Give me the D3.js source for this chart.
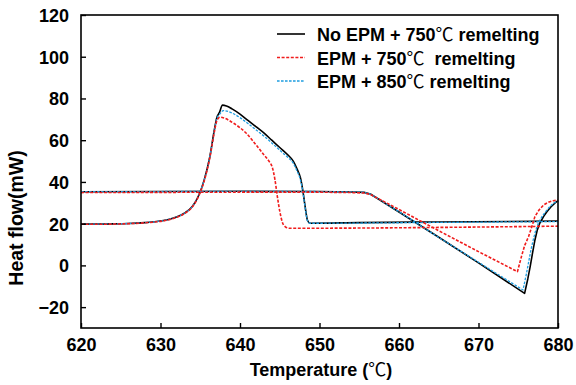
<!DOCTYPE html>
<html>
<head>
<meta charset="utf-8">
<script src="https://cdn.jsdelivr.net/npm/d3@7"></script>
<style>
  body { margin: 0; background: #fff; }
  svg text { font-family: "Liberation Sans", Arial, "Noto Sans CJK SC", sans-serif; font-weight: bold; fill: #000; }
  .cjk { font-family: "Noto Sans CJK SC", sans-serif; font-weight: normal; }
</style>
</head>
<body>
<div id="chart"></div>
<script>
// temperature (℃) / heat flow (mW)
const xTicks = [620, 630, 640, 650, 660, 670, 680];
const yTicks = [-20, 0, 20, 40, 60, 80, 100, 120];

const seriesNames = [['No EPM + 750', ' remelting'], ['EPM + 750', '\u00a0 remelting'], ['EPM + 850', ' remelting']];

// heating branch
const heatTempNoEpm = [620, 622, 624, 626, 628, 629.5, 631, 632, 633, 634, 634.8, 635.5, 636.2, 636.8, 637.1, 637.4, 637.8, 638.3, 639, 640, 641, 642, 643, 644, 645, 646, 646.7, 647.2, 647.6, 647.9, 648.2, 648.5, 648.8, 655, 665, 680];
const heatFlowNoEpm = [19.8, 19.8, 19.9, 20.1, 20.5, 21, 22, 23.2, 25, 28.2, 33.5, 41, 52, 65.5, 71, 73.2, 76.8, 76.4, 75, 72.5, 69.5, 66.5, 63.5, 60, 56.5, 53, 50, 46, 42, 36, 28, 21.5, 20.2, 20.5, 20.8, 21.2];

const heatTemp750 = [620, 622, 624, 626, 628, 629.5, 631, 632, 633, 634, 634.8, 635.5, 636.2, 636.8, 637.1, 637.5, 638, 639.2, 640, 640.8, 641.5, 642.3, 643, 643.6, 644.1, 644.4, 644.7, 645, 645.3, 645.7, 646.2, 655, 665, 680];
const heatFlow750 = [19.7, 19.7, 19.8, 20, 20.4, 20.9, 21.8, 23, 24.8, 28, 33.2, 40.5, 51.5, 64.5, 69.5, 71, 70.6, 68.1, 66, 63.3, 60.2, 56.4, 53, 50.2, 46.5, 41, 33, 26, 21, 18.5, 17.8, 17.9, 18.2, 18.8];

const heatTemp850 = [620, 622, 624, 626, 628, 629.5, 631, 632, 633, 634, 634.8, 635.5, 636.2, 636.8, 637.1, 637.5, 637.9, 639, 640, 641, 642, 643, 644, 645, 646, 646.7, 647.2, 647.6, 647.9, 648.2, 648.5, 648.8, 655, 665, 680];
const heatFlow850 = [19.8, 19.8, 19.9, 20.1, 20.5, 21, 22, 23.2, 25, 28.2, 33.5, 41, 52, 65, 70.5, 72.8, 74.2, 73, 70.8, 68, 65, 62, 58.7, 55.2, 51.8, 49, 45, 41, 35.5, 27.5, 21.3, 20.2, 20.3, 20.6, 21];

// cooling branch
const coolTempNoEpm = [620, 630, 640, 650, 654, 655.6, 656.4, 660, 665, 670, 675.8, 676.2, 676.5, 676.8, 677.1, 677.4, 677.7, 678.2, 678.6, 679.1, 679.6, 680];
const coolFlowNoEpm = [35.3, 35.4, 35.5, 35.4, 35.2, 35, 34.2, 25.6, 13.5, 1.2, -13.4, -6.5, -0.6, 6, 12.2, 17, 20.2, 23.5, 25.7, 28, 29.8, 31];

const coolTemp750 = [620, 630, 640, 650, 654, 655.6, 656.4, 660, 665, 670, 674.9, 675.4, 675.8, 676.3, 676.7, 677.1, 677.6, 678.2, 678.8, 679.4, 680];
const coolFlow750 = [34.9, 35, 35.1, 35.1, 34.9, 34.7, 34, 26.8, 16.6, 6.6, -3, 4.2, 9.5, 13.8, 18.5, 23.4, 26.5, 29, 30.3, 31, 31.3];

const coolTemp850 = [620, 630, 640, 650, 654, 655.6, 656.4, 660, 665, 670, 675.6, 676, 676.3, 676.6, 676.9, 677.2, 677.5, 678, 678.5, 679, 679.5, 680];
const coolFlow850 = [35.3, 35.4, 35.5, 35.4, 35.2, 35, 34.2, 25.7, 13.4, 1.5, -11.8, -4.5, 1.5, 7.5, 12.5, 16.8, 20, 23.5, 26, 28.3, 30, 31];

const width = 576;
const height = 385;
const margin = { top: 15, right: 18, bottom: 57, left: 81 };

const svg = d3.select('#chart').append('svg')
  .attr('width', width)
  .attr('height', height);

const x = d3.scaleLinear()
  .domain([620, 680])
  .range([margin.left, width - margin.right]);

const y = d3.scaleLinear()
  .domain([-30, 120])
  .range([height - margin.bottom, margin.top]);

const heatLine = d3.line()
  .x(d => x(d[0]))
  .y(d => y(d[1]))
  .curve(d3.curveMonotoneX);

const coolLine = d3.line()
  .x(d => x(d[0]))
  .y(d => y(d[1]))
  .curve(d3.curveLinear);

const styles = [
  { color: '#000000', width: 1.6, dash: null },
  { color: '#f01c1c', width: 1.6, dash: '3,1.6' },
  { color: '#1e9de0', width: 1.3, dash: '2.6,1.4' }
];

const branches = [
  [heatTempNoEpm, heatFlowNoEpm, coolTempNoEpm, coolFlowNoEpm],
  [heatTemp750, heatFlow750, coolTemp750, coolFlow750],
  [heatTemp850, heatFlow850, coolTemp850, coolFlow850]
];

// draw black first, then blue, then red on top
const plot = svg.append('g');
[0, 2, 1].forEach(i => {
  const b = branches[i];
  const s = styles[i];
  [[b[0], b[1], heatLine], [b[2], b[3], coolLine]].forEach(pair => {
    plot.append('path')
      .datum(pair[0].map((t, k) => [t, pair[1][k]]))
      .attr('d', pair[2])
      .attr('fill', 'none')
      .attr('stroke', s.color)
      .attr('stroke-width', s.width)
      .attr('stroke-linejoin', 'round')
      .attr('stroke-dasharray', s.dash);
  });
});

// frame
svg.append('rect')
  .attr('x', x(620))
  .attr('y', y(120))
  .attr('width', x(680) - x(620))
  .attr('height', y(-30) - y(120))
  .attr('fill', 'none')
  .attr('stroke', '#000')
  .attr('stroke-width', 1.6);

// axes with inward ticks
const xAxis = svg.append('g')
  .attr('transform', 'translate(0,' + y(-30) + ')')
  .call(d3.axisBottom(x).tickValues(xTicks).tickSizeInner(-5).tickSizeOuter(0).tickPadding(10));

const yAxis = svg.append('g')
  .attr('transform', 'translate(' + x(620) + ',0)')
  .call(d3.axisLeft(y).tickValues(yTicks).tickSizeInner(-5).tickSizeOuter(0).tickPadding(12)
    .tickFormat(d => d < 0 ? '\u2212' + Math.abs(d) : d));

[xAxis, yAxis].forEach(a => {
  a.select('.domain').remove();
  a.selectAll('.tick line').attr('stroke', '#000').attr('stroke-width', 1.4);
  a.selectAll('.tick text').style('font-size', '18px').attr('fill', '#000');
});
xAxis.selectAll('.tick text').attr('dy', '0.71em');
yAxis.selectAll('.tick text').attr('dy', '0.36em');

// axis titles
const xTitle = svg.append('text')
  .attr('x', 321)
  .attr('y', 376)
  .attr('text-anchor', 'middle')
  .style('font-size', '18px');
xTitle.append('tspan').text('Temperature (');
xTitle.append('tspan').attr('class', 'cjk').text('℃');
xTitle.append('tspan').text(')');

svg.append('text')
  .attr('transform', 'translate(23,218) rotate(-90)')
  .attr('text-anchor', 'middle')
  .style('font-size', '19.5px')
  .text('Heat flow(mW)');

// legend
const legend = svg.append('g');
seriesNames.forEach((name, i) => {
  const ly = 34 + i * 23.5;
  legend.append('line')
    .attr('x1', 277).attr('x2', 305)
    .attr('y1', ly).attr('y2', ly)
    .attr('stroke', styles[i].color)
    .attr('stroke-width', styles[i].width)
    .attr('stroke-dasharray', styles[i].dash);
  const t = legend.append('text')
    .attr('x', 317)
    .attr('y', ly + 7)
    .style('font-size', '18px');
  t.append('tspan').text(name[0]);
  t.append('tspan').attr('class', 'cjk').text('℃');
  t.append('tspan').text(name[1]);
});
</script>
</body>
</html>
